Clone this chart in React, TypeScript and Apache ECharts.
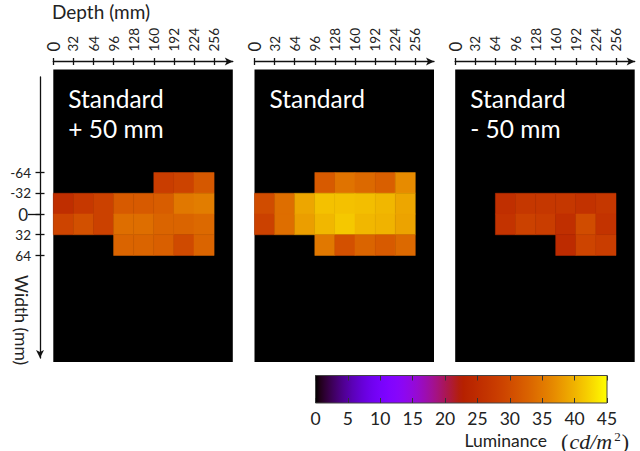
import React, { useEffect, useRef } from "react";
import * as echarts from "echarts";

// ---- data ----
const depthTicks = [0, 32, 64, 96, 128, 160, 192, 224, 256];
const widthTicks = [-64, -32, 0, 32, 64];
const depthBins = [0, 32, 64, 96, 128, 160, 192, 224];
const widthBins = [-64, -32, 0, 32];
const colorbarTicks = [0, 5, 10, 15, 20, 25, 30, 35, 40, 45];

const plus50mm: (number | null)[][] = [
  [null, null, null, null, null, 28.0, 28.8, 31.5],
  [25.3, 27.2, 28.5, 31.8, 31.8, 32.2, 35.0, 35.5],
  [29.0, 30.5, 28.5, 34.0, 34.0, 33.0, 33.0, 33.5],
  [null, null, null, 33.0, 33.0, 32.4, 29.8, 33.0],
];
const standard: (number | null)[][] = [
  [null, null, null, 31.8, 34.5, 33.5, 32.4, 36.8],
  [30.0, 34.0, 39.0, 41.0, 41.0, 40.8, 40.3, 39.0],
  [28.5, 34.0, 38.3, 40.3, 41.5, 40.3, 40.0, 38.7],
  [null, null, null, 35.0, 30.6, 33.0, 31.8, 33.5],
];
const minus50mm: (number | null)[][] = [
  [null, null, null, null, null, null, null, null],
  [null, null, 25.5, 27.0, 27.0, 27.0, 26.0, 27.0],
  [null, null, 26.3, 28.5, 28.0, 25.5, 30.0, 26.3],
  [null, null, null, null, null, 24.8, 29.0, 28.0],
];
const panelTitles = ["Standard\n+ 50 mm", "Standard", "Standard\n- 50 mm"];
const panels = [plus50mm, standard, minus50mm];
const LUM_MIN = 0;
const LUM_MAX = 45;

// ---- layout ----
const FONT = "Lato, 'Open Sans', sans-serif";
const SERIF = "'Liberation Serif', serif";
const PANEL_LEFT = [53.3, 254.5, 455.2];
const PANEL_TOP = 69.5;
const PANEL_W = 179.5;
const PANEL_H = 292.5;
const ZERO_Y = 214;
const PX_X = 20.1 / 32;
const PX_Y = 20.75 / 32;
const X_MAX = PANEL_W / PX_X;
const Y_MIN = -(ZERO_Y - PANEL_TOP) / PX_Y;
const Y_MAX = (PANEL_TOP + PANEL_H - ZERO_Y) / PX_Y;
const YAX_TOP = 77;
const YAX_BOTTOM = 358;
const YAX_MIN = -(ZERO_Y - YAX_TOP) / PX_Y;
const YAX_MAX = (YAX_BOTTOM - ZERO_Y) / PX_Y;

function gnuplot(t: number): string {
  const r = Math.sqrt(t);
  const g = t * t * t;
  const b = Math.max(0, Math.sin(2 * Math.PI * t));
  const c = (v: number) => Math.round(Math.min(1, Math.max(0, v)) * 255);
  return `rgb(${c(r)},${c(g)},${c(b)})`;
}
const N_STOPS = 64;
const cmap = Array.from({ length: N_STOPS }, (_, i) => gnuplot(i / (N_STOPS - 1)));

function buildData(grid: (number | null)[][]) {
  const out: number[][] = [];
  grid.forEach((row, ri) =>
    row.forEach((v, ci) => {
      if (v !== null) out.push([depthBins[ci], widthBins[ri], v]);
    })
  );
  return out;
}

const zeroBig = (v: number) => (v === 0 ? "{big|0}" : String(v));

export default function App() {
  const ref = useRef<HTMLDivElement>(null);
  useEffect(() => {
    if (!ref.current) return;
    const chart = echarts.init(ref.current, undefined, { renderer: "svg" });

    const grids: any[] = PANEL_LEFT.map((l) => ({
      left: l,
      top: PANEL_TOP,
      width: PANEL_W,
      height: PANEL_H,
      show: true,
      backgroundColor: "#000",
      borderWidth: 0,
    }));
    grids.push({ left: 40, top: YAX_TOP, width: 10, height: YAX_BOTTOM - YAX_TOP, show: false });
    grids.push({
      left: 315.5,
      top: 375.5,
      width: 291.5,
      height: 27.5,
      show: true,
      borderColor: "#444",
      borderWidth: 1,
      backgroundColor: new echarts.graphic.LinearGradient(
        0,
        0,
        1,
        0,
        cmap.map((c, i) => ({ offset: i / (N_STOPS - 1), color: c }))
      ),
    });

    const lineStyle = { color: "#111", width: 1.3 };
    const xAxes: any[] = [];
    PANEL_LEFT.forEach((_, i) => {
      xAxes.push({
        type: "value",
        gridIndex: i,
        position: "top",
        offset: 8,
        min: 0,
        max: X_MAX,
        axisLine: { show: true, onZero: false, lineStyle, symbol: ["none", "arrow"], symbolSize: [6, 8] },
        axisTick: { show: true, customValues: depthTicks, inside: false, length: 3.5, lineStyle },
        axisLabel: {
          show: true,
          customValues: depthTicks,
          rotate: -90,
          margin: 10,
          fontSize: 13.5,
          color: "#222",
          fontFamily: FONT,
          formatter: zeroBig,
          rich: { big: { fontSize: 17, fontFamily: FONT, color: "#222" } },
        },
        splitLine: { show: false },
      });
      xAxes.push({
        type: "value",
        gridIndex: i,
        position: "top",
        offset: 8,
        min: 0,
        max: X_MAX,
        axisLine: { show: false, onZero: false },
        axisTick: { show: true, customValues: depthTicks, inside: true, length: 3.5, lineStyle },
        axisLabel: { show: false },
        splitLine: { show: false },
      });
    });
    // hidden x axis for the width-axis grid
    xAxes.push({ type: "value", gridIndex: 3, min: 0, max: 1, show: false });
    // colorbar axes
    xAxes.push({
      type: "value",
      gridIndex: 4,
      position: "bottom",
      min: LUM_MIN,
      max: LUM_MAX,
      interval: 5,
      axisLine: { show: false, onZero: false },
      axisTick: { show: true, inside: true, length: 5, lineStyle: { color: "#333", width: 1 } },
      axisLabel: {
        show: true,
        customValues: colorbarTicks,
        margin: 6,
        fontSize: 17.5,
        color: "#222",
        fontFamily: FONT,
      },
      splitLine: { show: false },
    });
    xAxes.push({
      type: "value",
      gridIndex: 4,
      position: "top",
      min: LUM_MIN,
      max: LUM_MAX,
      interval: 5,
      axisLine: { show: false, onZero: false },
      axisTick: { show: true, inside: true, length: 5, lineStyle: { color: "#333", width: 1 } },
      axisLabel: { show: false },
      splitLine: { show: false },
    });

    const yAxes: any[] = PANEL_LEFT.map((_, i) => ({
      type: "value",
      gridIndex: i,
      inverse: true,
      min: Y_MIN,
      max: Y_MAX,
      show: false,
    }));
    yAxes.push({
      type: "value",
      gridIndex: 3,
      position: "left",
      inverse: true,
      min: YAX_MIN,
      max: YAX_MAX,
      axisLine: { show: true, onZero: false, lineStyle, symbol: ["arrow", "none"], symbolSize: [6, 8] },
      axisTick: { show: true, customValues: widthTicks, inside: false, length: 4.5, lineStyle },
      axisLabel: {
        show: true,
        customValues: widthTicks,
        margin: 9,
        fontSize: 13.5,
        color: "#222",
        fontFamily: FONT,
        formatter: zeroBig,
        rich: { big: { fontSize: 17, fontFamily: FONT, color: "#222", padding: [0, 3, 0, 0] } },
      },
      splitLine: { show: false },
    });
    yAxes.push({
      type: "value",
      gridIndex: 3,
      position: "left",
      inverse: true,
      min: YAX_MIN,
      max: YAX_MAX,
      axisLine: { show: false, onZero: false },
      axisTick: { show: true, customValues: widthTicks, inside: true, length: 4.5, lineStyle },
      axisLabel: { show: false },
      splitLine: { show: false },
    });
    yAxes.push({
      type: "value",
      gridIndex: 3,
      position: "left",
      inverse: true,
      min: YAX_MIN,
      max: YAX_MAX,
      axisLine: { show: false, onZero: false },
      axisTick: { show: true, customValues: [0], inside: false, length: 12, lineStyle },
      axisLabel: { show: false },
      splitLine: { show: false },
    });
    yAxes.push({ type: "value", gridIndex: 4, min: 0, max: 1, show: false });

    const series: any[] = panels.map((p, i) => ({
      type: "custom",
      xAxisIndex: i * 2,
      yAxisIndex: i,
      encode: { x: 0, y: 1 },
      data: buildData(p),
      renderItem: (params: any, api: any) => {
        const x = api.value(0);
        const y = api.value(1);
        const p0 = api.coord([x, y]);
        const p1 = api.coord([x + 32, y + 32]);
        const c = api.visual("color");
        return {
          type: "rect",
          shape: {
            x: Math.min(p0[0], p1[0]),
            y: Math.min(p0[1], p1[1]),
            width: Math.abs(p1[0] - p0[0]),
            height: Math.abs(p1[1] - p0[1]),
          },
          style: { fill: c, stroke: c, lineWidth: 0.5 },
        };
      },
    }));

    const graphics: any[] = [
      {
        type: "text",
        left: 52,
        top: 2,
        style: { text: "Depth (mm)", fontSize: 19, fill: "#222", fontFamily: FONT },
      },
      {
        type: "text",
        x: 21,
        y: 320,
        rotation: -Math.PI / 2,
        style: {
          text: "Width (mm)",
          fontSize: 17.5,
          fill: "#222",
          fontFamily: FONT,
          align: "center",
          verticalAlign: "middle",
        },
      },
      ...panelTitles.map((t, i) => ({
        type: "text",
        left: PANEL_LEFT[i] + 15,
        top: 83,
        style: { text: t, fontSize: 24.5, lineHeight: 30, fill: "#fff", fontFamily: FONT },
      })),
      {
        type: "text",
        x: 547,
        y: 440,
        style: {
          text: "Luminance",
          fontSize: 17.5,
          fill: "#222",
          fontFamily: FONT,
          align: "right",
          verticalAlign: "middle",
        },
      },
      {
        type: "text",
        x: 630,
        y: 441,
        style: {
          text: "{m|(}{i|cd/m}{s|2}{m|)}",
          fill: "#222",
          align: "right",
          verticalAlign: "middle",
          rich: {
            m: { fontSize: 22, lineHeight: 22, fontFamily: SERIF, fill: "#222", padding: [0, 1, 0, 1] },
            i: { fontSize: 22, lineHeight: 22, fontFamily: SERIF, fontStyle: "italic", fill: "#222", padding: [0, 2, 0, 0] },
            s: { fontSize: 13, lineHeight: 13, fontFamily: SERIF, fill: "#222", padding: [0, 0, 9, 0] },
          },
        },
      },
    ];

    chart.setOption({
      animation: false,
      backgroundColor: "#fff",
      textStyle: { fontFamily: FONT },
      grid: grids,
      xAxis: xAxes,
      yAxis: yAxes,
      visualMap: {
        type: "continuous",
        show: false,
        min: LUM_MIN,
        max: LUM_MAX,
        dimension: 2,
        seriesIndex: [0, 1, 2],
        inRange: { color: cmap },
      },
      graphic: graphics,
      series,
    });
    return () => chart.dispose();
  }, []);
  return (
    <div
      ref={ref}
      style={{ position: "fixed", left: 0, top: 0, width: 640, height: 451 }}
    />
  );
}
